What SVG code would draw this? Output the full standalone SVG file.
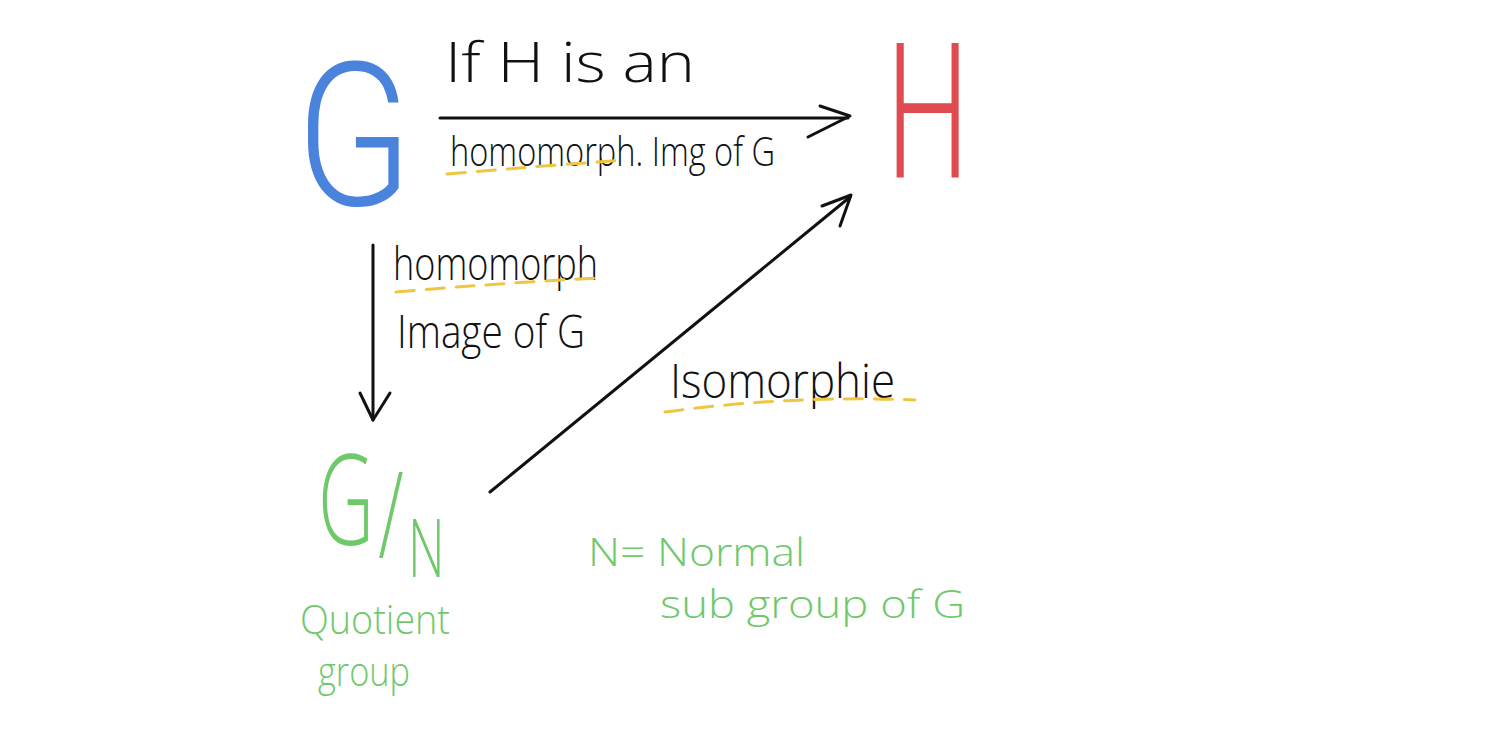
<svg xmlns="http://www.w3.org/2000/svg" width="1501" height="729" viewBox="0 0 1501 729">
<style>
.t{font-family:"Open Sans","Liberation Sans",sans-serif;font-weight:300}
.big{font-family:Roboto,"Open Sans",sans-serif;font-weight:300}
.k{fill:#111}
.g{fill:#6fc96b}
.ln{fill:none;stroke:#111;stroke-width:3;stroke-linecap:round;stroke-linejoin:round}
.ul{fill:none;stroke:#f0c540;stroke-width:3;stroke-linecap:round;stroke-dasharray:18 12}
</style>
<rect width="1501" height="729" fill="#fff"/>
<g id="node-G"><text class="big" transform="translate(296,205) scale(0.85,1)" font-size="200" fill="#4a83dc">G</text></g>
<g id="node-H"><text class="big" transform="translate(886,178) scale(0.62,1)" font-size="190" fill="#e04b4f">H</text></g>
<g id="node-GN">
<text class="t g" transform="translate(318,545) scale(0.62,1)" font-size="125"><tspan x="0" y="0">G</tspan><tspan x="97" y="13" font-size="120">/</tspan><tspan x="145" y="32" font-size="82">N</tspan></text>
<text class="t g" x="300" y="634" font-size="40" textLength="150" lengthAdjust="spacingAndGlyphs">Quotient</text>
<text class="t g" x="318" y="686" font-size="40" textLength="92" lengthAdjust="spacingAndGlyphs">group</text>
</g>
<g id="note-N">
<text class="t g" x="588" y="566" font-size="38" textLength="217" lengthAdjust="spacingAndGlyphs">N= Normal</text>
<text class="t g" x="660" y="618" font-size="38" textLength="305" lengthAdjust="spacingAndGlyphs">sub group of G</text>
</g>
<g id="connectors">
<path class="ln" d="M440 118 L848 118"/>
<path class="ln" d="M820 106 L850 116 L808 137"/>
<path class="ln" d="M373 245 L373 420"/>
<path class="ln" d="M360 393 L373 420 L390 393"/>
<path class="ln" d="M490 492 L850 197"/>
<path class="ln" d="M822 206 L851 195 L840 226"/>
</g>
<g id="labels">
<text class="t k" x="445" y="82" font-size="56" textLength="250" lengthAdjust="spacingAndGlyphs">If H is an</text>
<text class="t k" x="450" y="166" font-size="40" textLength="325" lengthAdjust="spacingAndGlyphs">homomorph. Img of G</text>
<path class="ul" d="M447 174 Q540 166 625 160"/>
<text class="t k" x="393" y="280" font-size="46" textLength="205" lengthAdjust="spacingAndGlyphs">homomorph</text>
<path class="ul" d="M396 292 Q500 283 598 278"/>
<text class="t k" x="397" y="348" font-size="46" textLength="188" lengthAdjust="spacingAndGlyphs">Image of G</text>
<text class="t k" x="670" y="398" font-size="48" textLength="225" lengthAdjust="spacingAndGlyphs">Isomorphie</text>
<path class="ul" d="M665 412 Q790 395 915 400"/>
</g>
</svg>
